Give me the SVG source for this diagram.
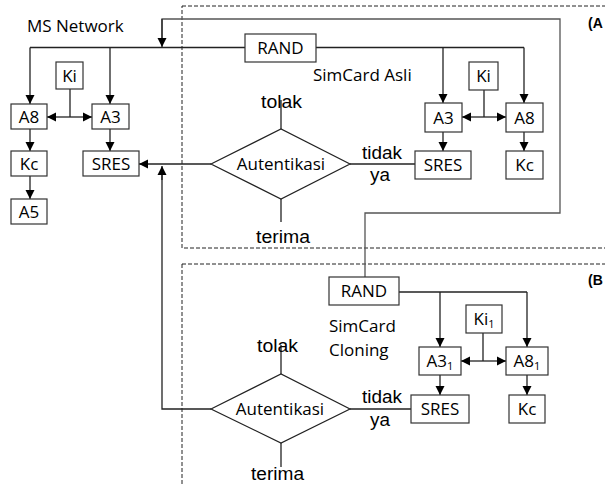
<svg xmlns="http://www.w3.org/2000/svg" width="605" height="485" viewBox="0 0 605 485">
<defs>
<marker id="ah" markerWidth="10" markerHeight="10" refX="9" refY="5" orient="auto" markerUnits="userSpaceOnUse">
<path d="M0,0.5 L9,5 L0,9.5 Z" fill="#000"/>
</marker>
<style>
.bx{fill:#fff;stroke:#333;stroke-width:1.2}
.ln{fill:none;stroke:#222;stroke-width:1.3}
.ar{fill:none;stroke:#222;stroke-width:1.3;marker-end:url(#ah)}
.loop{fill:none;stroke:#555;stroke-width:1.3}
.dash{fill:none;stroke:#222;stroke-width:1;stroke-dasharray:4,2}
.t{font-family:"Open Sans","Noto Sans",sans-serif;font-size:17px;fill:#000}
.c{text-anchor:middle}
.a{font-family:"Liberation Sans",Arial,sans-serif;font-size:17.5px;font-weight:normal;fill:#000}
.b{font-family:"Liberation Sans",Arial,sans-serif;font-size:14px;font-weight:bold;fill:#000}
.sub{font-size:11px}
.dia{fill:#fff;stroke:#222;stroke-width:1.2}
</style>
</defs>

<!-- frames -->
<g id="frameA">
<rect class="dash" x="182" y="6" width="440" height="242"/>
<text class="b" x="588" y="28">(A</text>
</g>
<g id="frameB">
<rect class="dash" x="182" y="264" width="440" height="240"/>
<text class="b" x="588" y="285">(B</text>
</g>

<!-- connectors -->
<g id="connectors">
<path class="loop" d="M365,277 V213 H560 V19 H162 V39"/>
<path class="ar" d="M162,19 V47"/>
<path class="ln" d="M30,47.5 H245"/>
<path class="ln" d="M316,47.5 H524"/>
<path class="ar" d="M30,47.5 V104"/>
<path class="ar" d="M110,47.5 V104"/>
<path class="ar" d="M443,47.5 V103"/>
<path class="ar" d="M524,47.5 V103"/>
<path class="ln" d="M70,89 V117"/>
<path class="ar" d="M70,117 H47"/>
<path class="ar" d="M70,117 H92"/>
<path class="ar" d="M30,129 V151"/>
<path class="ar" d="M30,176 V199"/>
<path class="ar" d="M110,129 V151"/>
<path class="ln" d="M484,90 V117"/>
<path class="ar" d="M484,117 H462"/>
<path class="ar" d="M484,117 H506"/>
<path class="ar" d="M443,132 V151"/>
<path class="ar" d="M524,132 V151"/>
<path class="ar" d="M211,164 H139"/>
<path class="ln" d="M350,164 H415"/>
<path class="ln" d="M281,100 V129"/>
<path class="ln" d="M281,199 V222"/>
<path class="ln" d="M399,292 H527"/>
<path class="ar" d="M440,292 V347"/>
<path class="ar" d="M527,292 V347"/>
<path class="ln" d="M483,333 V361"/>
<path class="ar" d="M483,361 H461"/>
<path class="ar" d="M483,361 H506"/>
<path class="ar" d="M440,375 V395"/>
<path class="ar" d="M527,375 V395"/>
<path class="ln" d="M350,409 H411"/>
<path class="ln" d="M211,409 H162 V175"/>
<path class="ar" d="M162,180 V166"/>
<path class="ln" d="M281,345 V374"/>
<path class="ln" d="M281,443 V467"/>
</g>

<!-- MS Network -->
<g id="msLabel"><text class="t" x="27" y="32">MS Network</text></g>
<g id="msKi"><rect class="bx" x="56" y="62" width="27" height="27"/><text class="t c" x="69.5" y="81.5">Ki</text></g>
<g id="msA8"><rect class="bx" x="11" y="104" width="36" height="25"/><text class="t c" x="29" y="122.5">A8</text></g>
<g id="msA3"><rect class="bx" x="92" y="104" width="37" height="25"/><text class="t c" x="110.5" y="122.5">A3</text></g>
<g id="msKc"><rect class="bx" x="11" y="151" width="36" height="25"/><text class="t c" x="29" y="169.5">Kc</text></g>
<g id="msA5"><rect class="bx" x="11" y="199" width="36" height="25"/><text class="t c" x="29" y="217.5">A5</text></g>
<g id="msSRES"><rect class="bx" x="83" y="151" width="56" height="25"/><text class="t c" x="111" y="169.5">SRES</text></g>

<!-- SimCard Asli -->
<g id="randA"><rect class="bx" x="245" y="34" width="71" height="28"/><text class="t c" x="280.5" y="54">RAND</text></g>
<g id="asliLabel"><text class="t" x="313" y="81">SimCard Asli</text></g>
<g id="kiA"><rect class="bx" x="469" y="62" width="29" height="28"/><text class="t c" x="483.5" y="82">Ki</text></g>
<g id="a3A"><rect class="bx" x="425" y="103" width="37" height="29"/><text class="t c" x="443.5" y="123.5">A3</text></g>
<g id="a8A"><rect class="bx" x="506" y="103" width="37" height="29"/><text class="t c" x="524.5" y="123.5">A8</text></g>
<g id="sresA"><rect class="bx" x="415" y="151" width="56" height="28"/><text class="t c" x="443" y="171">SRES</text></g>
<g id="kcA"><rect class="bx" x="506" y="151" width="37" height="28"/><text class="t c" x="524.5" y="171">Kc</text></g>
<g id="autA">
<polygon class="dia" points="211,164 281,129 350,164 281,199"/>
<text class="t c" x="281" y="170">Autentikasi</text>
</g>
<g id="labelsA">
<text class="a" x="261" y="108" textLength="41" lengthAdjust="spacingAndGlyphs">tolak</text>
<text class="a" x="256" y="243" textLength="54" lengthAdjust="spacingAndGlyphs">terima</text>
<text class="a" x="362" y="159" textLength="40" lengthAdjust="spacingAndGlyphs">tidak</text>
<text class="a" x="370" y="181" textLength="20" lengthAdjust="spacingAndGlyphs">ya</text>
</g>

<!-- SimCard Cloning -->
<g id="randB"><rect class="bx" x="329" y="277" width="70" height="28"/><text class="t c" x="364" y="297">RAND</text></g>
<g id="cloneLabel"><text class="t" x="329" y="332">SimCard</text><text class="t" x="329" y="356">Cloning</text></g>
<g id="kiB"><rect class="bx" x="466" y="305" width="36" height="28"/><text class="t c" x="484" y="325">Ki<tspan class="sub" dy="3">1</tspan></text></g>
<g id="a3B"><rect class="bx" x="419" y="347" width="42" height="28"/><text class="t c" x="440" y="367">A3<tspan class="sub" dy="3">1</tspan></text></g>
<g id="a8B"><rect class="bx" x="506" y="347" width="42" height="28"/><text class="t c" x="527" y="367">A8<tspan class="sub" dy="3">1</tspan></text></g>
<g id="sresB"><rect class="bx" x="411" y="395" width="58" height="28"/><text class="t c" x="440" y="415">SRES</text></g>
<g id="kcB"><rect class="bx" x="509" y="395" width="36" height="28"/><text class="t c" x="527" y="415">Kc</text></g>
<g id="autB">
<polygon class="dia" points="211,409 281,374 350,409 281,443"/>
<text class="t c" x="280" y="415">Autentikasi</text>
</g>
<g id="labelsB">
<text class="a" x="257" y="352" textLength="41" lengthAdjust="spacingAndGlyphs">tolak</text>
<text class="a" x="251" y="480" textLength="53" lengthAdjust="spacingAndGlyphs">terima</text>
<text class="a" x="362" y="403" textLength="40" lengthAdjust="spacingAndGlyphs">tidak</text>
<text class="a" x="370" y="426" textLength="20" lengthAdjust="spacingAndGlyphs">ya</text>
</g>
</svg>
